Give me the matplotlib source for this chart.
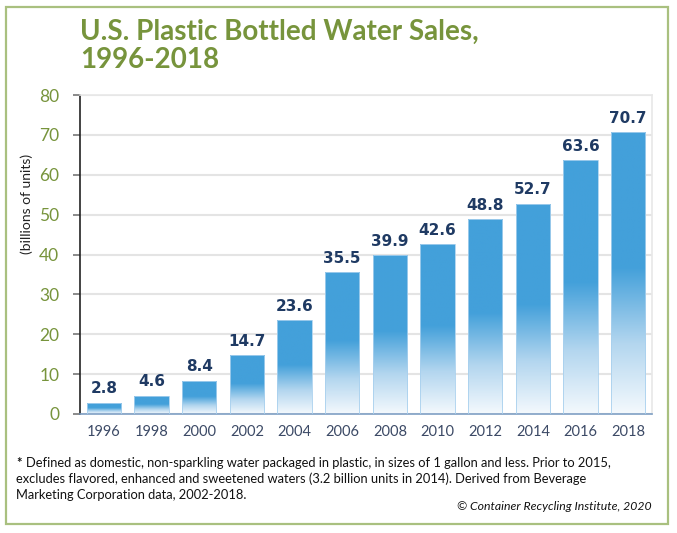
import numpy as np
import matplotlib
matplotlib.use("Agg")
import matplotlib.pyplot as plt
from matplotlib.colors import LinearSegmentedColormap
from matplotlib.patches import Rectangle

# data
years = ["1996", "1998", "2000", "2002", "2004", "2006",
         "2008", "2010", "2012", "2014", "2016", "2018"]
sales = [2.8, 4.6, 8.4, 14.7, 23.6, 35.5, 39.9, 42.6, 48.8, 52.7, 63.6, 70.7]
y_ticks = [0, 10, 20, 30, 40, 50, 60, 70, 80]

title = "U.S. Plastic Bottled Water Sales,\n1996-2018"
footnote_lines = [
    "Defined as domestic, non-sparkling water packaged in plastic, in sizes of 1 gallon and less. Prior to 2015,",
    "excludes flavored, enhanced and sweetened waters (3.2 billion units in 2014). Derived from Beverage",
    "Marketing Corporation data, 2002-2018.",
]
credit = "\u00a9 Container Recycling Institute, 2020"

green = "#77943c"
blue = "#43a0da"
navy = "#1f3a63"

fig = plt.figure(figsize=(6.77, 5.33), dpi=100)
W, H = 677, 533

# outer frame
fig.patches.append(Rectangle((6 / W, 1 - 524 / H), 662 / W, 517 / H,
                             transform=fig.transFigure, fill=False,
                             edgecolor="#a9c07f", linewidth=1.6))

ax = fig.add_axes([80 / W, 1 - 414 / H, 572 / W, 319 / H])

x = np.arange(len(years))
bars = ax.bar(x, sales, width=0.72, color="none", edgecolor="#a8d0ee",
              linewidth=0.6, zorder=3)

# vertical fade: solid blue on top, nearly white at the base
cmap = LinearSegmentedColormap.from_list(
    "fade", [(0.0, "#f4f9fd"), (0.25, "#b3d6ef"), (0.52, blue), (1.0, blue)])
grad = np.linspace(0, 1, 256).reshape(-1, 1)
for b in bars:
    x0, w, h = b.get_x(), b.get_width(), b.get_height()
    im = ax.imshow(grad, cmap=cmap, origin="lower", aspect="auto",
                   extent=(x0, x0 + w, 0, h), zorder=2, interpolation="bilinear")
    im.set_clip_path(b)
    ax.text(x0 + w / 2, h + 1.6, f"{h:.1f}", ha="center", va="bottom",
            fontsize=11, fontweight="bold", color=navy, family="DejaVu Sans")

ax.set_xlim(-0.5, len(years) - 0.5)
ax.set_ylim(0, 80)
ax.set_xticks(x)
ax.set_xticklabels(years, fontsize=10.5, color="#3c4a66", family="Lato")
ax.set_yticks(y_ticks)
ax.set_yticklabels([str(t) for t in y_ticks], fontsize=12.5, color=green, family="Lato")
ax.tick_params(axis="x", length=0, pad=8)
ax.tick_params(axis="y", length=5, color="#777777", width=1.2, pad=10)
ax.yaxis.grid(True, color="#e4e4e4", linewidth=1.5, zorder=0)
ax.set_axisbelow(True)
for s in ["top", "right"]:
    ax.spines[s].set_color("#e8e8e8")
    ax.spines[s].set_linewidth(1.2)
ax.spines["left"].set_color("#222222")
ax.spines["left"].set_linewidth(1.2)
ax.spines["bottom"].set_color("#7f9fc4")
ax.spines["bottom"].set_linewidth(1.2)

ax.set_ylabel("(billions of units)", fontsize=10, color="#222222", family="Lato")
ax.yaxis.set_label_coords(-0.082, 0.66)

fig.text(80 / W, 1 - 19 / H, title, ha="left", va="top", fontsize=20,
         fontweight="bold", color=green, family="Lato", linespacing=1.1)

# footnote, one text per line; bold asterisk in front of the first line
star = fig.text(16 / W, 1 - 463 / H, "*", ha="left", va="center", fontsize=9.3,
                fontweight="bold", color="#111111", family="Lato")
renderer = fig.canvas.get_renderer()
star_w = star.get_window_extent(renderer).width
line_y = [463, 479, 495]
for i, (line, yy) in enumerate(zip(footnote_lines, line_y)):
    xx = 16 + (star_w + 4 if i == 0 else 0)
    fig.text(xx / W, 1 - yy / H, line, ha="left", va="center", fontsize=9.3,
             color="#111111", family="Lato")
fig.text(652 / W, 1 - 506 / H, credit, ha="right", va="center", fontsize=8.8,
         style="italic", color="#111111", family="Lato")

fig.savefig("out.png", dpi=100)
